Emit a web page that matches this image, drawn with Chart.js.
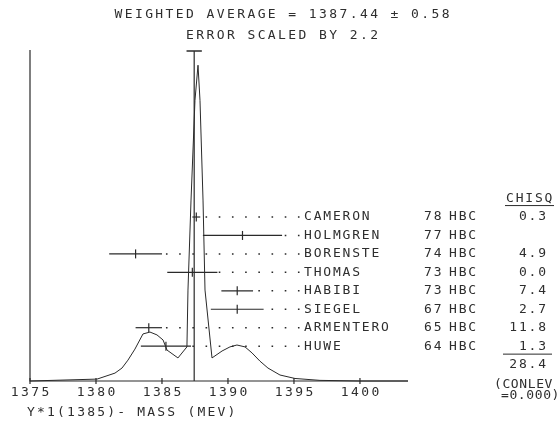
<!DOCTYPE html>
<html>
<head>
<meta charset="utf-8">
<script src="https://cdn.jsdelivr.net/npm/chart.js@4.4.1/dist/chart.umd.min.js"></script>
<style>
  html, body { margin: 0; padding: 0; background: #fff; }
  canvas { display: block; }
</style>
</head>
<body>
<canvas id="ideogram" width="557" height="424"></canvas>
<script>
// measurements, listed top row first
const authors = ['CAMERON', 'HOLMGREN', 'BORENSTE', 'THOMAS', 'HABIBI', 'SIEGEL', 'ARMENTERO', 'HUWE'];
const years = ['78', '77', '74', '73', '73', '67', '65', '64'];
const techniques = ['HBC', 'HBC', 'HBC', 'HBC', 'HBC', 'HBC', 'HBC', 'HBC'];
const masses = [1387.6, 1391.1, 1383.0, 1387.3, 1390.7, 1390.7, 1384.0, 1385.3];
const errors = [0.3, 3.0, 2.0, 1.9, 1.2, 2.0, 1.0, 1.9];
const chisq = ['0.3', '', '4.9', '0.0', '7.4', '2.7', '11.8', '1.3'];
const chisqTotal = '28.4';
const confLevel = '0.000';

const avgMass = 1387.44;
const avgError = 0.58;
const errorScale = 2.2;

// ideogram curve (height relative to its peak)
const curveMass = [1375.0, 1380.08, 1381.44, 1381.97, 1382.42, 1382.95, 1383.56, 1384.09, 1384.62,
  1385.08, 1385.38, 1386.21, 1386.89, 1386.97, 1387.20, 1387.50, 1387.73, 1387.88, 1388.11,
  1388.26, 1388.79, 1389.55, 1390.15, 1390.68, 1391.29, 1391.82, 1392.42, 1393.03, 1393.94,
  1395.08, 1396.97, 1400.0, 1403.64];
const curveHeight = [0.0, 0.006, 0.025, 0.041, 0.066, 0.101, 0.149, 0.155, 0.146,
  0.130, 0.098, 0.073, 0.108, 0.288, 0.573, 0.889, 1.0, 0.889, 0.573,
  0.288, 0.073, 0.095, 0.108, 0.114, 0.108, 0.089, 0.063, 0.041, 0.019,
  0.008, 0.002, 0.0, 0.0];

const massTicks = [1375, 1380, 1385, 1390, 1395, 1400];

const INK = '#2a2a2a';
const FONT = '13px "DejaVu Sans Mono"';
const SPACING = 1.8;
const LEADER_END = 1395.3;

function label(ctx, text, x, y, align, spacing) {
  const sp = spacing === undefined ? SPACING : spacing;
  ctx.letterSpacing = sp + 'px';
  ctx.textAlign = align || 'left';
  const shift = align === 'right' ? sp : align === 'center' ? sp / 2 : 0;
  ctx.fillText(text, x + shift, y);
}

const rows = authors.map((a, i) => i);

const errorBars = masses.map((m, i) => ({
  data: [{ x: m - errors[i], y: i }, { x: m + errors[i], y: i }],
  yAxisID: 'rows',
  borderColor: INK,
  borderWidth: 1.2,
  pointRadius: 0
}));

// dotted leaders run on a 1 MeV grid from the bar end to the name
const leaders = masses.map((m, i) => {
  const start = Math.ceil(m + errors[i] - 0.25) + 0.3;
  return {
    data: [{ x: start, y: i }, { x: LEADER_END + 0.12, y: i }],
    yAxisID: 'rows',
    borderColor: INK,
    borderWidth: 1.5,
    borderDash: [1.6, 11.6],
    pointRadius: 0
  };
});

const textPlugin = {
  id: 'ideogramText',
  afterDatasetsDraw(chart) {
    const { ctx, chartArea, scales } = chart;
    const x = scales.x, r = scales.rows;
    ctx.save();
    ctx.strokeStyle = INK;
    ctx.lineWidth = 1.2;
    // axes
    ctx.beginPath();
    ctx.moveTo(chartArea.left, chartArea.top - 1);
    ctx.lineTo(chartArea.left, chartArea.bottom);
    ctx.lineTo(chartArea.right, chartArea.bottom);
    ctx.stroke();
    massTicks.forEach(v => {
      const px = x.getPixelForValue(v);
      ctx.beginPath();
      ctx.moveTo(px, chartArea.bottom - 3);
      ctx.lineTo(px, chartArea.bottom + 3);
      ctx.stroke();
    });

    ctx.fillStyle = '#2e2e2e';
    ctx.font = FONT;
    ctx.textBaseline = 'middle';

    label(ctx, 'WEIGHTED AVERAGE = ' + avgMass.toFixed(2) + ' \u00b1 ' + avgError.toFixed(2), 282, 15, 'center', 2.4);
    label(ctx, 'ERROR SCALED BY ' + errorScale.toFixed(1), 282, 36, 'center', 2.4);

    massTicks.forEach(v => label(ctx, String(v), x.getPixelForValue(v), 393, 'center', 2.4));
    label(ctx, 'Y*1(1385)- MASS (MEV)', 27, 413, 'left', 2.2);

    rows.forEach(i => {
      const py = r.getPixelForValue(i);
      label(ctx, authors[i], 304, py, 'left');
      label(ctx, years[i], 424, py, 'left');
      label(ctx, techniques[i], 449, py, 'left');
      if (chisq[i]) label(ctx, chisq[i], 546, py, 'right');
    });

    const headY = r.getPixelForValue(-1.0);
    label(ctx, 'CHISQ', 506, headY, 'left');
    const sumY = r.getPixelForValue(rows.length - 1) + 8;
    label(ctx, chisqTotal, 546, r.getPixelForValue(rows.length), 'right');
    label(ctx, '(CONLEV', 494, 385, 'left', 0.6);
    label(ctx, '=' + confLevel + ')', 501, 396, 'left', 0.6);

    ctx.lineWidth = 1;
    ctx.beginPath();
    ctx.moveTo(505, headY + 7);
    ctx.lineTo(554, headY + 7);
    ctx.moveTo(503, sumY);
    ctx.lineTo(552, sumY);
    ctx.stroke();
    ctx.restore();
  }
};

new Chart(document.getElementById('ideogram'), {
  type: 'line',
  data: {
    datasets: [
      {
        data: curveMass.map((m, i) => ({ x: m, y: curveHeight[i] })),
        borderColor: INK,
        borderWidth: 1,
        pointRadius: 0
      },
      {
        // weighted average with its error as the cap
        data: [{ x: avgMass, y: 0 }, { x: avgMass, y: 1.045 }],
        borderColor: INK,
        borderWidth: 1.2,
        pointRadius: 0
      },
      {
        data: [{ x: avgMass - avgError, y: 1.045 }, { x: avgMass + avgError, y: 1.045 }],
        borderColor: INK,
        borderWidth: 1.5,
        pointRadius: 0
      },
      ...errorBars,
      ...leaders,
      {
        type: 'scatter',
        data: masses.map((m, i) => ({ x: m, y: i })),
        yAxisID: 'rows',
        pointStyle: 'line',
        rotation: 90,
        pointRadius: 4.5,
        borderColor: INK,
        borderWidth: 1.2
      }
    ]
  },
  options: {
    responsive: false,
    animation: false,
    clip: false,
    layout: { padding: { left: 30, top: 51, right: 149, bottom: 43 } },
    elements: { line: { tension: 0 } },
    plugins: { legend: { display: false }, tooltip: { enabled: false } },
    scales: {
      x: { type: 'linear', min: 1375, max: 1403.64, display: false },
      y: { min: 0, max: 1.045, display: false },
      rows: { type: 'linear', axis: 'y', reverse: true, min: -9.0, max: 8.89, display: false }
    }
  },
  plugins: [textPlugin]
});
</script>
</body>
</html>
